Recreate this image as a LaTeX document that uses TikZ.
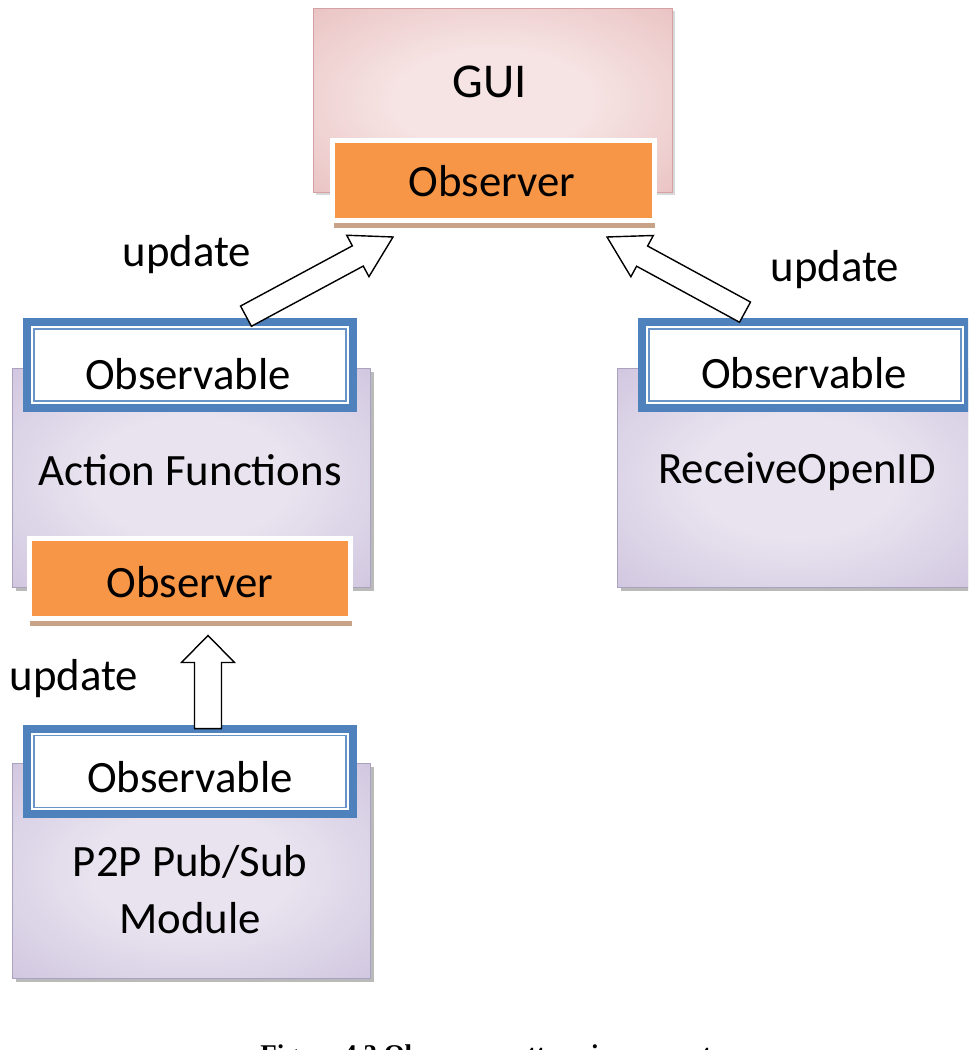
\documentclass[tikz,border=0pt]{standalone}
\usepackage{fontspec}
\setmainfont{Carlito}
\newfontfamily\capfont{Liberation Serif}
\usetikzlibrary{calc, shadows}
\definecolor{obsblue}{HTML}{4F81BD}
\definecolor{obsorange}{HTML}{F79646}
\definecolor{obstan}{HTML}{C9A387}
\definecolor{guiL}{HTML}{F6E3E3}
\definecolor{guiM}{HTML}{EBC6C6}
\definecolor{guiD}{HTML}{D79897}
\definecolor{guiB}{HTML}{D4A2A2}
\definecolor{modL}{HTML}{E8E3EF}
\definecolor{modM}{HTML}{D3C9E1}
\definecolor{modD}{HTML}{AE9CC8}
\definecolor{modB}{HTML}{A9A3BF}
\pgfdeclareradialshading{guishade}{\pgfpoint{0bp}{0bp}}{color(0bp)=(guiL);
  color(14bp)=(guiL); color(34bp)=(guiM); color(50bp)=(guiD)}
\pgfdeclareradialshading{modshade}{\pgfpoint{0bp}{0bp}}{color(0bp)=(modL);
  color(14bp)=(modL); color(34bp)=(modM); color(50bp)=(modD)}
% hollow block arrow: tail, tip, shaft half width, head half width, head length
\newcommand{\fatarrow}[5]{%
  \coordinate (#1-#2) at ($(#2)!#5!(#1)$);
  \draw[fatarr] ($(#1)!#3!90:(#2)$) -- ($(#1-#2)!#3!90:(#2)$)
    -- ($(#1-#2)!#4!90:(#2)$) -- (#2) -- ($(#1-#2)!#4!-90:(#2)$)
    -- ($(#1-#2)!#3!-90:(#2)$) -- ($(#1)!#3!-90:(#2)$) -- cycle;
}
\tikzset{
  txt/.style={anchor=base, inner sep=0pt, font=\fontsize{25.5}{32}\selectfont},
  modbox/.style={draw=modB, line width=0.5pt, shading=modshade,
    minimum width=7.16cm, minimum height=4.38cm,
    drop shadow={shadow xshift=0.08cm, shadow yshift=-0.08cm,
      fill=black!45, opacity=0.6}},
  guibox/.style={draw=guiB, line width=0.5pt, shading=guishade,
    minimum width=7.18cm, minimum height=3.68cm,
    drop shadow={shadow xshift=0.06cm, shadow yshift=-0.06cm,
      fill=black!30, opacity=0.5}},
  obsframe/.style={minimum width=6.24cm, minimum height=1.44cm, inner sep=0pt,
    fill=white, draw=obsblue!85, line width=0.034cm,
    preaction={draw=obsblue, line width=0.44cm},
    preaction={draw=white, line width=0.104cm}},
  obsvr/.style={minimum width=6.44cm, minimum height=1.6cm, inner sep=0pt,
    fill=obsorange, draw=white, line width=0.1cm,
    drop shadow={shadow xshift=0.02cm, shadow yshift=-0.16cm,
      fill=obstan, opacity=1}},
  fatarr/.style={draw=black, fill=white, line width=0.8pt, line join=miter}
}
\begin{document}
\begin{tikzpicture}[x=0.02cm, y=-0.02cm]
  \useasboundingbox (0,0) rectangle (968,1050);
  \clip (0,0) rectangle (968,1050);

  % component boxes
  \node[modbox] (aF) at (191,477.5) {};
  \node[modbox] (rF) at (796,477.5) {};
  \node[modbox, minimum height=4.3cm] (pF) at (191,870.5) {};
  \node[guibox] (gui) at (492.5,100) {};

  % observable frames and observer bars
  \foreach \n/\x/\y in {aO/190/365, rO/805/365, bO/190/771.5}
    \node[obsframe] (\n) at (\x,\y) {};
  \node[obsvr] (gO) at (493.5,180.5) {};
  \node[obsvr] (aR) at (190,578.5) {};

  % texts
  \node[txt, font=\fontsize{27.7}{33}\selectfont] (guiT) at (490,98) {GUI};
  \foreach \n/\x/\y in {gOt/492/197, aRt/190/597}
    \node[txt] (\n) at (\x,\y) {Observer};
  \foreach \n/\x/\y in {aOt/188/389, rOt/804/388, bOt/190/792}
    \node[txt] (\n) at (\x,\y) {Observable};
  \node[txt] (aFt) at (190,485) {Action Functions};
  \node[txt] (rFt) at (797,483) {ReceiveOpenID};
  \node[txt, align=center] (pFt) at (190,933) {P2P Pub/Sub\\Module};
  \foreach \n/\x/\y in {u1/187/267, u2/835/282, u3/74/690}
    \node[txt] (\n) at (\x,\y) {update};

  % update arrows
  \coordinate (tA) at ([xshift=1.12cm, yshift=0.24cm]aO.north);
  \coordinate (hA) at ([xshift=-2.01cm, yshift=-0.28cm]gO.south);
  \coordinate (tR) at ([xshift=-1.2cm, yshift=0.32cm]rO.north);
  \coordinate (hR) at ([xshift=2.27cm, yshift=-0.28cm]gO.south);
  \coordinate (tP) at ([xshift=0.36cm, yshift=0.12cm]bO.north);
  \coordinate (hP) at ([xshift=0.36cm, yshift=-0.29cm]aR.south);
  \fatarrow{tA}{hA}{0.23cm}{0.47cm}{0.8cm}
  \fatarrow{tR}{hR}{0.23cm}{0.47cm}{0.8cm}
  \fatarrow{tP}{hP}{0.27cm}{0.53cm}{0.54cm}

  \node[anchor=base west, inner sep=0pt,
    font=\capfont\bfseries\fontsize{15.4}{18}\selectfont] (cap) at (260,1063)
    {Figure 4.3 Observer pattern in our system};
\end{tikzpicture}
\end{document}
